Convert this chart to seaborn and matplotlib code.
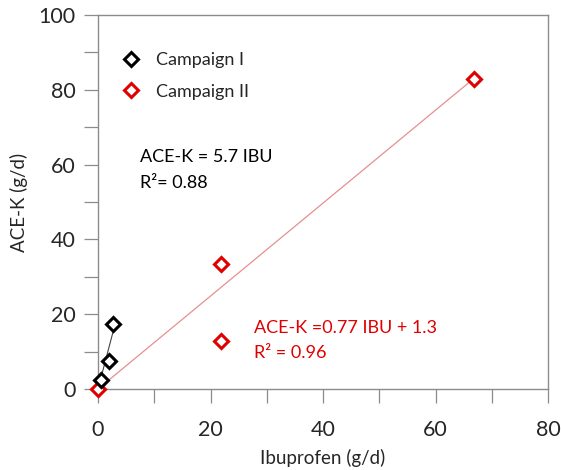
import numpy as np
import pandas as pd
import matplotlib
matplotlib.use("Agg")
import matplotlib.pyplot as plt
import seaborn as sns

# Daily loads (g/d) per sampling campaign
ibu_c1 = [0.5, 2.0, 2.7]
ace_c1 = [2.4, 7.5, 17.3]
ibu_c2 = [0.0, 21.8, 21.8, 66.8]
ace_c2 = [0.0, 33.3, 12.8, 83.0]

# Trend lines (end points along the fitted relations)
fit_c1_x = [0.0, 2.8]
fit_c1_y = [0.0, 16.0]
fit_c2_x = [0.0, 66.8]
fit_c2_y = [0.0, 83.0]

x_ticks = [0, 20, 40, 60, 80]
y_ticks = [0, 20, 40, 60, 80, 100]

sns.set_theme(style="white")
plt.rcParams["font.family"] = ["Lato", "DejaVu Sans"]

RED = "#e00000"
SPINE = "#8c8c8c"

fig = plt.figure(figsize=(5.61, 4.70), dpi=100)
ax = fig.add_axes([98 / 561, 1 - 389 / 470, 450 / 561, 374 / 470])

df1 = pd.DataFrame({"Ibuprofen": ibu_c1, "ACE-K": ace_c1})
df2 = pd.DataFrame({"Ibuprofen": ibu_c2, "ACE-K": ace_c2})
f1 = pd.DataFrame({"x": fit_c1_x, "y": fit_c1_y})
f2 = pd.DataFrame({"x": fit_c2_x, "y": fit_c2_y})

sns.lineplot(data=f1, x="x", y="y", ax=ax, color="#444444", lw=0.8, zorder=2)
sns.lineplot(data=f2, x="x", y="y", ax=ax, color="#e69090", lw=0.9, zorder=2)

ax.plot(df1["Ibuprofen"], df1["ACE-K"], ls="none", marker="D", ms=7.5,
        mfc="white", mec="black", mew=2.2, label="Campaign I",
        zorder=4, clip_on=False)
ax.plot(df2["Ibuprofen"], df2["ACE-K"], ls="none", marker="D", ms=7.5,
        mfc="white", mec=RED, mew=2.2, label="Campaign II",
        zorder=3, clip_on=False)

ax.set_xlim(0, 80)
ax.set_ylim(0, 100)
ax.set_xticks(x_ticks)
ax.set_yticks(y_ticks)
ax.set_xticks(np.arange(10, 80, 20), minor=True)
ax.set_yticks(np.arange(10, 100, 20), minor=True)
ax.tick_params(which="both", direction="out", length=10, width=0.9,
               color=SPINE, bottom=True, left=True)
ax.tick_params(axis="x", which="major", labelsize=15.5, pad=12)
ax.tick_params(axis="y", which="major", labelsize=15.5, pad=6)
for s in ax.spines.values():
    s.set_color(SPINE)
    s.set_linewidth(1.0)

ax.set_xlabel("Ibuprofen (g/d)", fontsize=13.5, labelpad=7)
ax.set_ylabel("ACE-K (g/d)", fontsize=13.5, labelpad=8)

leg = ax.legend(loc="upper left", bbox_to_anchor=(0.014, 0.944), frameon=False,
                fontsize=13, handletextpad=0.75, labelspacing=0.85,
                handlelength=1.2)

ax.text(7.5, 62, "ACE-K = 5.7 IBU", fontsize=13, color="black",
        va="center", ha="left")
ax.text(7.5, 55, "R²= 0.88", fontsize=13, color="black",
        va="center", ha="left")
ax.text(27.7, 16.3, "ACE-K =0.77 IBU + 1.3", fontsize=13, color=RED,
        va="center", ha="left")
ax.text(27.7, 9.6, "R² = 0.96", fontsize=13, color=RED,
        va="center", ha="left")

fig.savefig("out.png", dpi=100)
